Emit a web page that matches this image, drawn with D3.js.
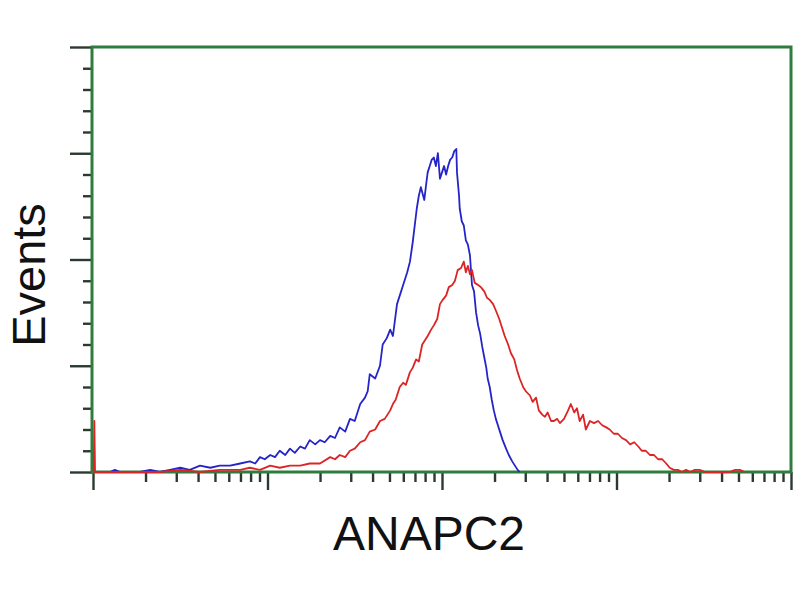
<!DOCTYPE html>
<html>
<head>
<meta charset="utf-8">
<script src="https://cdn.jsdelivr.net/npm/d3@7"></script>
<style>
  html, body { margin: 0; padding: 0; background: #ffffff; }
  svg { display: block; }
</style>
</head>
<body>
<svg id="chart" width="800" height="600"></svg>
<script>
// ---- Data (channel 0..1024 spans 4 log decades; counts per channel) ----
const xLabel = "ANAPC2";
const yLabel = "Events";

const blueChannels = [10,25,32,40,54,69,84,98,113,128,142,157,172,186,201,216,230,238,245,252,260,267,274,282,289,296,304,311,318,326,333,340,348,355,362,370,377,384,392,399,403,406,414,421,425,431,436,440,446,450,455,461,465,469,472,475,478,481,486,489,491,494,497,500,503,506,509,512,515,518,521,524,527,530,533,534,537,538,541,544,547,550,553,556,559,562,565,568,571,574,577,579,582,585,588,591,594,597,601,606,610,615,619,623,626];
const blueCounts   = [0,0,1,0,0,0,1,0,1,2,1,3,2,3,3,4,5,4,7,6,8,7,10,8,11,9,12,11,15,13,15,14,17,16,21,19,25,24,32,35,38,46,44,50,60,63,67,64,79,83,88,94,99,108,116,124,130,134,128,136,141,144,147,148,144,150,138,141,144,140,144,147,148,151,152,141,130,124,118,116,109,107,102,88,85,75,69,65,59,54,49,44,40,34,29,25,22,19,15,11,8,5,3,1,0];

const redChannels = [1,2,3,40,69,98,128,157,186,216,230,245,260,274,289,304,318,333,348,355,362,370,377,384,392,399,406,414,421,428,436,440,444,450,455,459,465,469,474,478,483,487,491,496,500,505,509,513,518,522,527,531,535,540,544,547,550,553,556,560,565,569,574,578,582,587,591,596,600,604,609,613,618,622,626,631,635,641,645,650,654,659,663,667,672,676,681,685,691,697,701,706,710,714,719,723,729,735,741,747,753,758,764,770,776,782,788,794,800,805,811,817,823,829,835,841,846,852,858,864,870,876,883,890,898,905,920,934,942,949,956];
const redCounts   = [0,24,0,0,0,0,1,0,1,1,2,1,3,2,3,3,4,4,7,6,8,7,10,11,14,15,19,20,24,25,29,32,34,40,42,41,47,49,53,52,60,62,64,67,69,72,79,81,83,87,88,90,95,96,99,94,97,93,95,89,88,87,85,82,81,79,76,72,68,64,60,56,53,48,44,40,38,36,33,35,29,27,26,28,24,24,25,23,25,29,32,28,30,24,27,20,24,23,24,22,21,20,18,18,16,15,13,14,12,10,10,8,8,6,6,4,2,1,1,0,1,0,1,1,0,0,0,0,1,1,0];

const xMajorTicks = [1, 10, 100, 1000, 10000];
const xMinorMultipliers = [2, 3, 4, 5, 6, 7, 8, 9];
const yMajorTicks = [0, 50, 100, 150, 200];
const yMinorStep = 10;

// ---- Layout ----
const plotLeft = 93, plotRight = 791, plotTop = 47, plotBottom = 472;
const frameColor = "#2f7d3e";
const tickColor = "#2b3a2e";

const svg = d3.select("#chart");

const xChan = d3.scaleLinear().domain([0, 1024]).range([plotLeft, plotRight]);
const xLog = d3.scaleLog().domain([1, 10000]).range([plotLeft, plotRight]);
const y = d3.scaleLinear().domain([0, 200]).range([plotBottom, plotTop]);

const xMinor = [];
xMajorTicks.slice(0, -1).forEach(d => xMinorMultipliers.forEach(m => xMinor.push(d * m)));
const yMinor = d3.range(0, 201, yMinorStep).filter(v => !yMajorTicks.includes(v));

function styleAxis(g) {
  g.select(".domain").remove();
  g.selectAll(".tick line").attr("stroke", tickColor).attr("stroke-width", 2.4);
  g.selectAll(".tick text").remove();
}

svg.append("g").attr("transform", `translate(0,${plotBottom})`)
  .call(d3.axisBottom(xLog).tickValues(xMinor).tickSize(10).tickFormat(""))
  .call(styleAxis);
svg.append("g").attr("transform", `translate(0,${plotBottom})`)
  .call(d3.axisBottom(xLog).tickValues(xMajorTicks).tickSize(18).tickFormat(""))
  .call(styleAxis);

svg.append("g").attr("transform", `translate(${plotLeft - 1},0)`)
  .call(d3.axisLeft(y).tickValues(yMinor).tickSize(9).tickFormat(""))
  .call(styleAxis);
svg.append("g").attr("transform", `translate(${plotLeft - 1},0)`)
  .call(d3.axisLeft(y).tickValues(yMajorTicks).tickSize(22).tickFormat(""))
  .call(styleAxis);

svg.append("rect")
  .attr("x", plotLeft - 1).attr("y", plotTop)
  .attr("width", plotRight - plotLeft + 1).attr("height", plotBottom - plotTop)
  .attr("fill", "none").attr("stroke", frameColor).attr("stroke-width", 3);

const line = d3.line()
  .x(d => xChan(d[0]))
  .y(d => y(d[1]));

const blueData = blueChannels.map((c, i) => [c, blueCounts[i]]);
const redData = redChannels.map((c, i) => [c, redCounts[i]]);

svg.append("path").datum(blueData)
  .attr("fill", "none").attr("stroke", "#2424c8").attr("stroke-width", 1.8)
  .attr("stroke-linejoin", "round").attr("d", line);
svg.append("path").datum(redData)
  .attr("fill", "none").attr("stroke", "#dc2424").attr("stroke-width", 1.8)
  .attr("stroke-linejoin", "round").attr("d", line);

svg.append("text")
  .attr("x", (plotLeft + plotRight) / 2 - 13).attr("y", 550)
  .attr("text-anchor", "middle")
  .attr("font-family", "Liberation Sans, Arial, sans-serif")
  .attr("font-size", 48).attr("fill", "#111")
  .text(xLabel);

svg.append("text")
  .attr("transform", `translate(45,275) rotate(-90)`)
  .attr("text-anchor", "middle")
  .attr("font-family", "Liberation Sans, Arial, sans-serif")
  .attr("font-size", 47).attr("fill", "#111")
  .text(yLabel);
</script>
</body>
</html>
